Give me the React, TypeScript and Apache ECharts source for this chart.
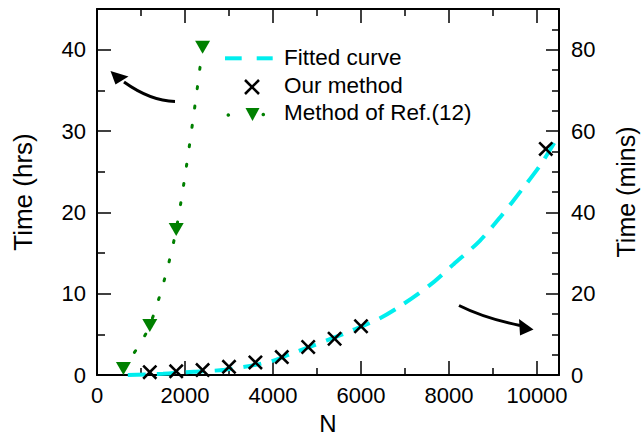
import React, { useEffect, useRef } from 'react';
import * as echarts from 'echarts';

// Fitted curve (minutes, right axis)
const fitN = [700, 1500, 2200, 2900, 3900, 4500, 5200, 5800, 6400, 6900, 7600, 8100, 8700, 9200, 9650, 10100, 10500];
const fitMins = [0.0, 0.3, 0.8, 1.3, 3.2, 5.6, 8.4, 11.0, 13.8, 17.0, 22.4, 27.2, 33.0, 39.3, 45.5, 52.0, 59.0];

// Our method (minutes, right axis)
const oursN = [1200, 1800, 2400, 3000, 3600, 4200, 4800, 5400, 6000, 10200];
const oursMins = [0.7, 0.9, 1.2, 2.0, 3.1, 4.4, 6.9, 8.9, 12.0, 55.6];

// Method of Ref.(12) (hours, left axis)
const refN = [600, 1200, 1800, 2400];
const refHrs = [0.8, 6.1, 17.9, 40.3];

// Tick labels
const nTickLabels = [0, 2000, 4000, 6000, 8000, 10000];
const hrsTickLabels = [0, 10, 20, 30, 40];
const minsTickLabels = [0, 20, 40, 60, 80];

const seriesNames = ['Fitted curve', 'Our method', 'Method of Ref.(12)'];

const FONT = "'Liberation Sans', Arial, Helvetica, sans-serif";
const CYAN = '#00EEEE';
const GREEN = '#008000';
const XPATH = 'path://M2.4,0 L10,7.6 L17.6,0 L20,2.4 L12.4,10 L20,17.6 L17.6,20 L10,12.4 L2.4,20 L0,17.6 L7.6,10 L0,2.4 Z';

function labelFmt(list: number[]) {
  return (v: number) => (list.indexOf(v) >= 0 ? String(v) : '');
}

const tickLine = { color: '#000', width: 1.5 };

export default function App() {
  const ref = useRef<HTMLDivElement>(null);
  useEffect(() => {
    if (!ref.current) return;
    const chart = echarts.init(ref.current, null, { renderer: 'svg' });
    const baseX = {
      type: 'value',
      min: 0,
      max: 10500,
      interval: 2000,
      axisLine: { show: true, onZero: false, lineStyle: { color: '#000', width: 2 } },
      axisTick: { show: true, inside: true, length: 14, lineStyle: tickLine },
      minorTick: { show: true, splitNumber: 2, length: 7, lineStyle: tickLine },
      splitLine: { show: false },
      minorSplitLine: { show: false },
    };
    const option: any = {
      animation: false,
      backgroundColor: '#fff',
      grid: { left: 97, right: 82, top: 9, bottom: 62, containLabel: false, outerBoundsMode: 'none' },
      xAxis: [
        {
          ...baseX,
          position: 'bottom',
          name: 'N',
          nameLocation: 'middle',
          nameGap: 36,
          nameTextStyle: { color: '#000', fontSize: 24, fontFamily: FONT },
          axisLabel: { color: '#000', fontSize: 22, fontFamily: FONT, margin: 9, formatter: labelFmt(nTickLabels) },
        },
        {
          ...baseX,
          position: 'top',
          axisLabel: { show: false },
        },
      ],
      yAxis: [
        {
          type: 'value',
          position: 'left',
          min: 0,
          max: 45,
          interval: 10,
          name: 'Time (hrs)',
          nameLocation: 'middle',
          nameGap: 61,
          nameTextStyle: { color: '#000', fontSize: 26, fontFamily: FONT },
          axisLine: { show: true, onZero: false, lineStyle: { color: '#000', width: 2 } },
          axisTick: { show: true, inside: true, length: 14, lineStyle: tickLine },
          minorTick: { show: true, splitNumber: 2, length: 8, lineStyle: tickLine },
          axisLabel: { color: '#000', fontSize: 22, fontFamily: FONT, margin: 11, formatter: labelFmt(hrsTickLabels) },
          splitLine: { show: false },
        },
        {
          type: 'value',
          position: 'right',
          min: 0,
          max: 90,
          interval: 20,
          name: 'Time (mins)',
          nameLocation: 'middle',
          nameGap: 54,
          nameTextStyle: { color: '#000', fontSize: 25, fontFamily: FONT },
          axisLine: { show: true, onZero: false, lineStyle: { color: '#000', width: 2 } },
          axisTick: { show: true, inside: true, length: 13, lineStyle: tickLine },
          minorTick: { show: true, splitNumber: 4, length: 7, lineStyle: tickLine },
          axisLabel: { color: '#000', fontSize: 22, fontFamily: FONT, margin: 12, formatter: labelFmt(minsTickLabels) },
          splitLine: { show: false },
        },
      ],
      series: [
        {
          name: seriesNames[0],
          type: 'line',
          xAxisIndex: 0,
          yAxisIndex: 1,
          data: fitN.map((n, i) => [n, fitMins[i]]),
          smooth: 0.3,
          symbol: 'none',
          lineStyle: { color: CYAN, width: 4, type: [18, 11] },
          z: 2,
        },
        {
          name: seriesNames[1],
          type: 'scatter',
          xAxisIndex: 0,
          yAxisIndex: 1,
          data: oursN.map((n, i) => [n, oursMins[i]]),
          symbol: XPATH,
          symbolSize: 15,
          itemStyle: { color: '#000', opacity: 1 },
          z: 3,
        },
        {
          name: seriesNames[2],
          type: 'line',
          xAxisIndex: 0,
          yAxisIndex: 0,
          data: refN.map((n, i) => [n, refHrs[i]]),
          smooth: 0.3,
          symbol: 'triangle',
          symbolRotate: 180,
          symbolSize: [15, 13],
          showAllSymbol: true,
          itemStyle: { color: GREEN, opacity: 1 },
          lineStyle: { color: GREEN, width: 3, type: [2, 17.5], cap: 'round' },
          z: 4,
        },
      ],
      graphic: [
        // left arrow
        { type: 'bezierCurve', shape: { x1: 175, y1: 101.5, cpx1: 155, cpy1: 101, cpx2: 138, cpy2: 92, x2: 124, y2: 82 }, style: { stroke: '#000', lineWidth: 3, fill: 'none' } },
        { type: 'polygon', shape: { points: [[110.5, 71], [115.5, 84.5], [128.5, 76.5]] }, style: { fill: '#000' } },
        // right arrow
        { type: 'bezierCurve', shape: { x1: 459, y1: 305.5, cpx1: 478, cpy1: 315, cpx2: 498, cpy2: 321, x2: 520, y2: 325.5 }, style: { stroke: '#000', lineWidth: 3, fill: 'none' } },
        { type: 'polygon', shape: { points: [[533.5, 329.5], [519, 319], [520, 335.5]] }, style: { fill: '#000' } },
        // legend: fitted curve
        { type: 'line', shape: { x1: 225, y1: 58.3, x2: 241.7, y2: 58.3 }, style: { stroke: CYAN, lineWidth: 4 } },
        { type: 'line', shape: { x1: 256.7, y1: 58.3, x2: 272.7, y2: 58.3 }, style: { stroke: CYAN, lineWidth: 4 } },
        { type: 'text', x: 284, y: 57, style: { text: seriesNames[0], fontSize: 22.5, fontFamily: FONT, fill: '#000', verticalAlign: 'middle' } },
        // legend: our method
        { type: 'line', shape: { x1: 245, y1: 80, x2: 259, y2: 94 }, style: { stroke: '#000', lineWidth: 2.5 } },
        { type: 'line', shape: { x1: 245, y1: 94, x2: 259, y2: 80 }, style: { stroke: '#000', lineWidth: 2.5 } },
        { type: 'text', x: 284, y: 85, style: { text: seriesNames[1], fontSize: 22.5, fontFamily: FONT, fill: '#000', verticalAlign: 'middle' } },
        // legend: ref method
        { type: 'circle', shape: { cx: 228.3, cy: 115, r: 1.8 }, style: { fill: GREEN } },
        { type: 'circle', shape: { cx: 263.3, cy: 114.5, r: 1.8 }, style: { fill: GREEN } },
        { type: 'polygon', shape: { points: [[245.5, 108], [259.5, 108], [252.5, 121]] }, style: { fill: GREEN } },
        { type: 'text', x: 284, y: 112, style: { text: seriesNames[2], fontSize: 22.5, fontFamily: FONT, fill: '#000', verticalAlign: 'middle' } },
      ],
    };
    chart.setOption(option);
    return () => chart.dispose();
  }, []);
  return <div ref={ref} style={{ position: 'absolute', left: 0, top: 0, width: 641, height: 437, background: '#fff' }} />;
}
